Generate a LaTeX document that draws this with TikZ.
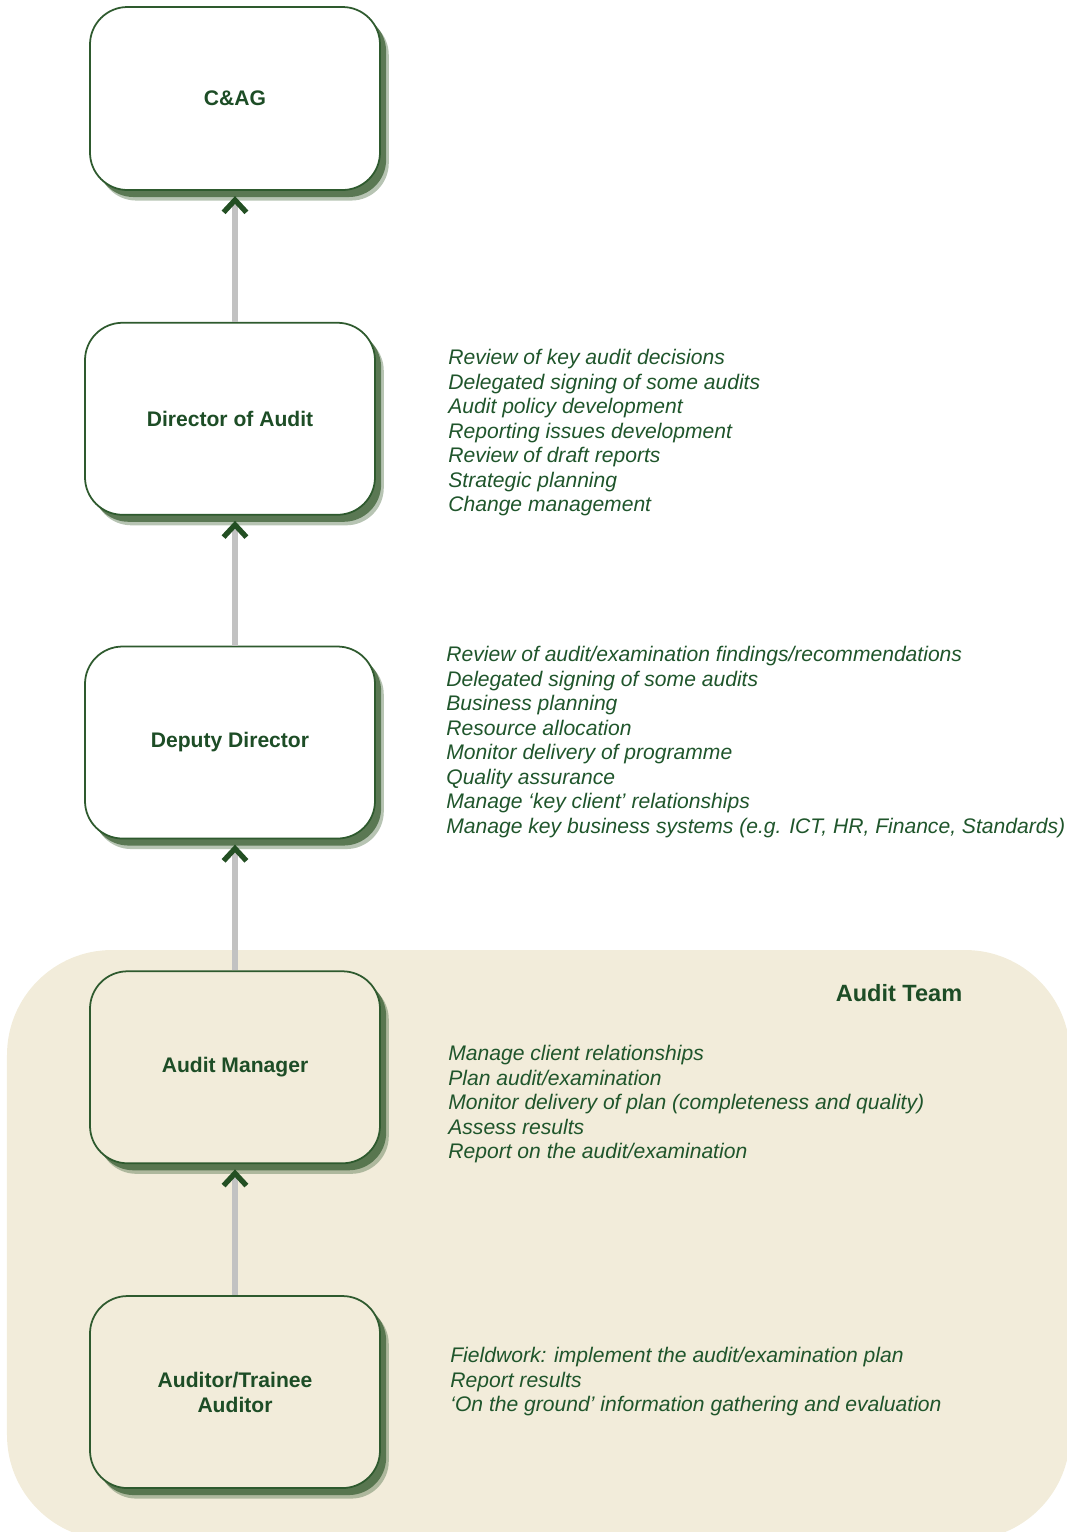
\documentclass[tikz,border=0pt]{standalone}
\usepackage{fontspec}
\setmainfont{Liberation Sans}
\usepackage{xcolor}
\usepackage{tikz}
\usetikzlibrary{arrows.meta, positioning, shadows}
\definecolor{rolegreen}{HTML}{2E5A2E}
\definecolor{titlegreen}{HTML}{1D4D26}
\definecolor{dutygreen}{HTML}{1F552B}
\definecolor{teambeige}{HTML}{F2ECDA}
\definecolor{shadowgreen}{HTML}{4A6B42}
\definecolor{linegray}{HTML}{C2C2C2}
\definecolor{arrowgreen}{HTML}{234F23}
\tikzstyle{rolebox} = [rectangle, rounded corners=0.75cm, minimum width=5.8cm, minimum height=3.84cm,
  align=center, draw=rolegreen, fill=white, font=\fontsize{12}{14.2}\selectfont\bfseries, text=titlegreen, line width=1pt,
  drop shadow={shadow xshift=5pt, shadow yshift=-6pt, fill=shadowgreen, opacity=0.4},
  drop shadow={shadow xshift=3.5pt, shadow yshift=-4pt, fill=shadowgreen, opacity=0.85}]
\tikzstyle{dutylist} = [anchor=north west, inner sep=0pt, align=left, text=dutygreen,
  font=\fontsize{12}{13.95}\selectfont\itshape]
\tikzstyle{arrow} = [line width=3pt, draw=linegray, shorten >=3pt,
  -{Straight Barb[length=7pt, width=13pt, line width=3pt, color=arrowgreen]}]

\begin{document}
\begin{tikzpicture}[node distance=2.62cm]
  \useasboundingbox (0,0) rectangle (21.32,-30.64);

  % === AUDIT TEAM AREA ===
  \fill[teambeige, rounded corners=2.1cm] (0.14,-19.0) rectangle (21.4,-30.8);
  \node (teamlabel) at (17.98,-19.86) [font=\fontsize{13.4}{16}\selectfont\bfseries, text=titlegreen] {Audit Team};

  % === ROLES ===
  \node (cag) at (4.70,-1.97) [rolebox, minimum height=3.66cm] {C\&AG};
  \node (dir) [rolebox, below=of cag, xshift=-0.1cm] {Director of Audit};
  \node (dep) [rolebox, below=2.6cm of dir] {Deputy Director};
  \node (mgr) [rolebox, below=of dep, xshift=0.1cm, fill=teambeige] {Audit Manager};
  \node (aud) [rolebox, below=of mgr, fill=teambeige] {Auditor/Trainee\\Auditor};

  % === DUTIES ===
  \node (dirduty) at (8.96,-6.98) [dutylist]
    {Review of key audit decisions\\Delegated signing of some audits\\Audit policy development\\
     Reporting issues development\\Review of draft reports\\Strategic planning\\Change management};
  \node (depduty) at (8.92,-12.92) [dutylist]
    {Review of audit/examination findings/recommendations\\Delegated signing of some audits\\
     Business planning\\Resource allocation\\Monitor delivery of programme\\Quality assurance\\
     Manage ‘key client’ relationships\\Manage key business systems (e.g. ICT, HR, Finance, Standards)};
  \node (mgrduty) at (8.96,-20.90) [dutylist]
    {Manage client relationships\\Plan audit/examination\\
     Monitor delivery of plan (completeness and quality)\\Assess results\\Report on the audit/examination};
  \node (audduty) at (9.00,-26.94) [dutylist]
    {Fieldwork: implement the audit/examination plan\\Report results\\
     ‘On the ground’ information gathering and evaluation};

  % === ARROWS ===
  \draw[arrow] (dir.north -| cag) -- (cag.south);
  \draw[arrow] (dep.north -| cag) -- (dir.south -| cag);
  \draw[arrow] (mgr.north) -- (dep.south -| mgr);
  \draw[arrow] (aud) -- (mgr);

\end{tikzpicture}
\end{document}
